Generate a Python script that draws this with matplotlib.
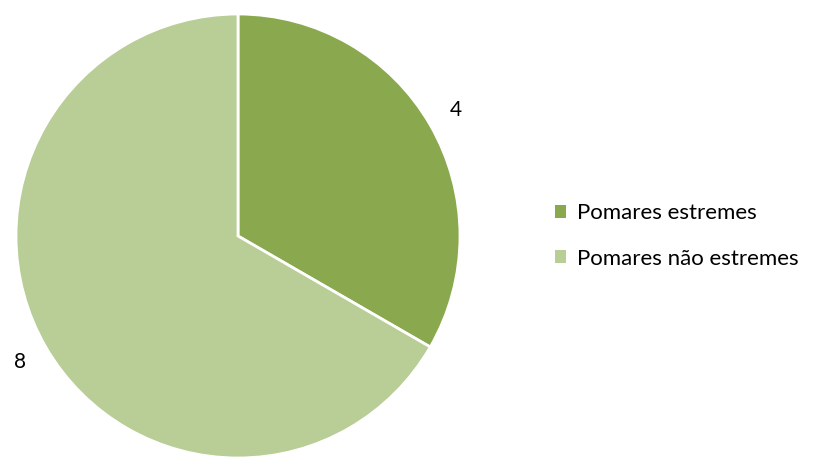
import matplotlib.pyplot as plt
from matplotlib.patches import Patch

labels = ["Pomares estremes", "Pomares não estremes"]
values = [4, 8]
colors = ["#8AA84E", "#B9CD96"]

fig = plt.figure(figsize=(8.27, 4.59), dpi=100)
ax = fig.add_axes([0, 0, 1, 1])

wedges, texts = ax.pie(values, labels=[str(v) for v in values], colors=colors,
                       startangle=90, counterclock=False, center=(238, 223), radius=222,
                       labeldistance=1.135, frame=True,
                       wedgeprops=dict(edgecolor="white", linewidth=2),
                       textprops=dict(fontsize=15, family="Lato", color="#000000"))
for t in texts:
    t.set_ha("center")
    t.set_va("center")
ax.set_xlim(0, 827)
ax.set_ylim(0, 459)
ax.axis("off")

handles = [Patch(facecolor=c, edgecolor="none") for c in colors]
fig.legend(handles, labels, loc="center left", bbox_to_anchor=(0.647, 0.486),
           frameon=False, handlelength=0.5, handleheight=0.5, handletextpad=0.5,
           labelspacing=1.15, prop=dict(family="Lato", size=16))

fig.savefig("out.png", dpi=100)
